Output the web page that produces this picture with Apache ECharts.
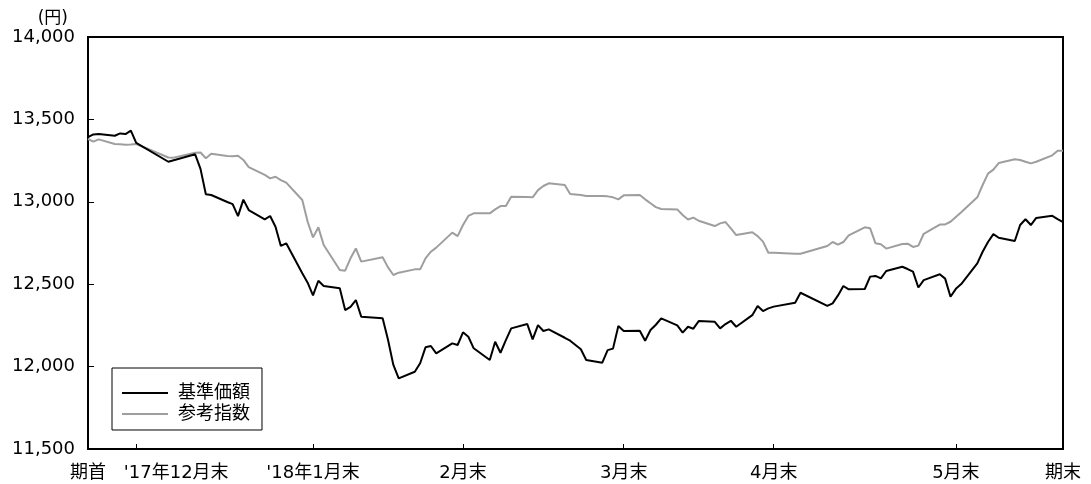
<!DOCTYPE html>
<html><head><meta charset="utf-8">
<script src="https://cdn.jsdelivr.net/npm/echarts@6/dist/echarts.min.js"></script>
<style>html,body{margin:0;padding:0;background:#fff}#c{width:1091px;height:484px}</style>
</head><body><div id="c"></div>
<script>
const dates = ['2017-12-20','2017-12-21','2017-12-22','2017-12-25','2017-12-26','2017-12-27','2017-12-28','2017-12-29',
'2018-01-04','2018-01-05','2018-01-09','2018-01-10','2018-01-11','2018-01-12','2018-01-15','2018-01-16','2018-01-17','2018-01-18','2018-01-19','2018-01-22','2018-01-23','2018-01-24','2018-01-25','2018-01-26','2018-01-29','2018-01-30','2018-01-31',
'2018-02-01','2018-02-02','2018-02-05','2018-02-06','2018-02-07','2018-02-08','2018-02-09','2018-02-13','2018-02-14','2018-02-15','2018-02-16','2018-02-19','2018-02-20','2018-02-21','2018-02-22','2018-02-23','2018-02-26','2018-02-27','2018-02-28',
'2018-03-01','2018-03-02','2018-03-05','2018-03-06','2018-03-07','2018-03-08','2018-03-09','2018-03-12','2018-03-13','2018-03-14','2018-03-15','2018-03-16','2018-03-19','2018-03-20','2018-03-22','2018-03-23','2018-03-26','2018-03-27','2018-03-28','2018-03-29','2018-03-30',
'2018-04-02','2018-04-03','2018-04-04','2018-04-05','2018-04-06','2018-04-09','2018-04-10','2018-04-11','2018-04-12','2018-04-13','2018-04-16','2018-04-17','2018-04-18','2018-04-19','2018-04-20','2018-04-23','2018-04-24','2018-04-25','2018-04-26','2018-04-27',
'2018-05-01','2018-05-02','2018-05-07','2018-05-08','2018-05-09','2018-05-10','2018-05-11','2018-05-14','2018-05-15','2018-05-16','2018-05-17','2018-05-18','2018-05-21','2018-05-22','2018-05-23','2018-05-24','2018-05-25','2018-05-28','2018-05-29','2018-05-30','2018-05-31',
'2018-06-01','2018-06-04','2018-06-05','2018-06-06','2018-06-07','2018-06-08','2018-06-11','2018-06-12','2018-06-13','2018-06-14','2018-06-15','2018-06-18','2018-06-19','2018-06-20'];

const navValues = [13392,13409,13411,13401,13415,13411,13432,13357,
13243,13252,13288,13200,13046,13041,12999,12986,12913,13013,12950,12893,12914,12849,12732,12748,12566,12509,12432,
12521,12489,12475,12343,12363,12404,12303,12293,12163,12010,11929,11969,12020,12117,12125,12080,12141,12131,12208,
12181,12111,12040,12151,12084,12161,12232,12258,12165,12252,12216,12226,12175,12157,12105,12040,12024,12100,12109,12246,12216,
12218,12157,12222,12254,12293,12250,12206,12242,12230,12276,12272,12232,12258,12278,12242,12312,12368,12337,12353,12364,
12388,12448,12368,12384,12432,12489,12469,12471,12546,12550,12535,12580,12606,12592,12576,12480,12525,12560,12534,12424,12472,
12501,12626,12697,12756,12804,12782,12762,12859,12894,12859,12902,12915,12895,12877];

const refValues = [13381,13365,13379,13351,13349,13346,13348,13351,
13269,13268,13298,13299,13264,13291,13278,13277,13279,13254,13211,13163,13142,13152,13132,13116,13011,12879,12784,
12845,12738,12586,12582,12657,12717,12637,12663,12602,12556,12570,12590,12590,12657,12697,12722,12813,12792,12859,
12914,12930,12930,12954,12974,12974,13031,13029,13027,13071,13096,13112,13102,13047,13041,13035,13035,13033,13027,13015,13039,
13041,13015,12991,12968,12956,12954,12920,12893,12904,12885,12853,12869,12877,12839,12798,12815,12792,12758,12691,12691,
12685,12685,12732,12756,12740,12756,12796,12845,12839,12748,12743,12716,12744,12746,12726,12734,12806,12862,12863,12879,12908,
12937,13027,13102,13171,13195,13235,13258,13254,13243,13233,13243,13282,13310,13310];

const tickDates = ['2017-12-20','2017-12-29','2018-01-31','2018-02-28','2018-03-30','2018-04-27','2018-05-31','2018-06-20'];
const tickLabels = ['期首',"'17年12月末","'18年1月末",'2月末','3月末','4月末','5月末','期末'];
const seriesNames = ['基準価額','参考指数'];

const DAY = 86400000;
const start = Date.parse(tickDates[0] + 'T00:00:00Z');
const off = s => Math.round((Date.parse(s + 'T00:00:00Z') - start) / DAY);
const tickOffsets = tickDates.map(off);
const xs = dates.map(off);
const FONT = '"DejaVu Sans", "Noto Sans CJK JP", sans-serif';

const chart = echarts.init(document.getElementById('c'), null, {renderer: 'canvas'});
chart.setOption({
  animation: false,
  backgroundColor: '#fff',
  textStyle: {fontFamily: FONT},
  grid: {left: 88, right: 28, top: 37, bottom: 35, show: true, borderColor: '#000', borderWidth: 2, backgroundColor: 'transparent'},
  legend: {
    orient: 'vertical', left: 112, top: 368,
    padding: [16, 12, 7, 10], itemGap: 3, itemWidth: 46, itemHeight: 2,
    icon: 'rect',
    borderColor: '#000', borderWidth: 1, backgroundColor: '#fff',
    textStyle: {fontSize: 18, color: '#000', fontFamily: FONT, padding: [0, 0, 0, 5]},
    data: seriesNames
  },
  xAxis: {
    type: 'value', min: tickOffsets[0], max: tickOffsets[tickOffsets.length - 1],
    axisLine: {lineStyle: {color: '#000', width: 2}},
    axisTick: {inside: true, length: 5, lineStyle: {color: '#000', width: 1}, customValues: tickOffsets.slice(1, -1)},
    splitLine: {show: false},
    axisLabel: {
      customValues: tickOffsets, margin: 15, color: '#000', fontSize: 18, fontFamily: FONT,
      showMinLabel: true, showMaxLabel: true, hideOverlap: false,
      formatter: v => {
        const i = tickOffsets.indexOf(Math.round(v));
        if (i < 0) return '';
        return i === 1 ? '{s|' + tickLabels[i] + '}' : tickLabels[i];
      },
      rich: {s: {fontSize: 18, color: '#000', fontFamily: FONT, padding: [0, 0, 0, 80]}}
    }
  },
  yAxis: {
    type: 'value', min: 11500, max: 14000, interval: 500,
    name: '(円)', nameLocation: 'end', nameGap: 10,
    nameTextStyle: {fontSize: 17, color: '#000', fontFamily: FONT, align: 'right', padding: [0, 20, 0, 0]},
    axisLine: {show: true, lineStyle: {color: '#000', width: 2}},
    axisTick: {show: true, inside: true, length: 6, lineStyle: {color: '#000', width: 1}},
    splitLine: {show: false},
    axisLabel: {margin: 13, color: '#000', fontSize: 18, fontFamily: FONT,
      formatter: v => v.toLocaleString('en-US')}
  },
  series: [
    {name: seriesNames[0], type: 'line', symbol: 'none', z: 3,
     lineStyle: {color: '#000', width: 2}, itemStyle: {color: '#000'},
     data: xs.map((x, i) => [x, navValues[i]])},
    {name: seriesNames[1], type: 'line', symbol: 'none', z: 2,
     lineStyle: {color: '#9e9e9e', width: 2}, itemStyle: {color: '#9e9e9e'},
     data: xs.map((x, i) => [x, refValues[i]])}
  ]
});
</script></body></html>
